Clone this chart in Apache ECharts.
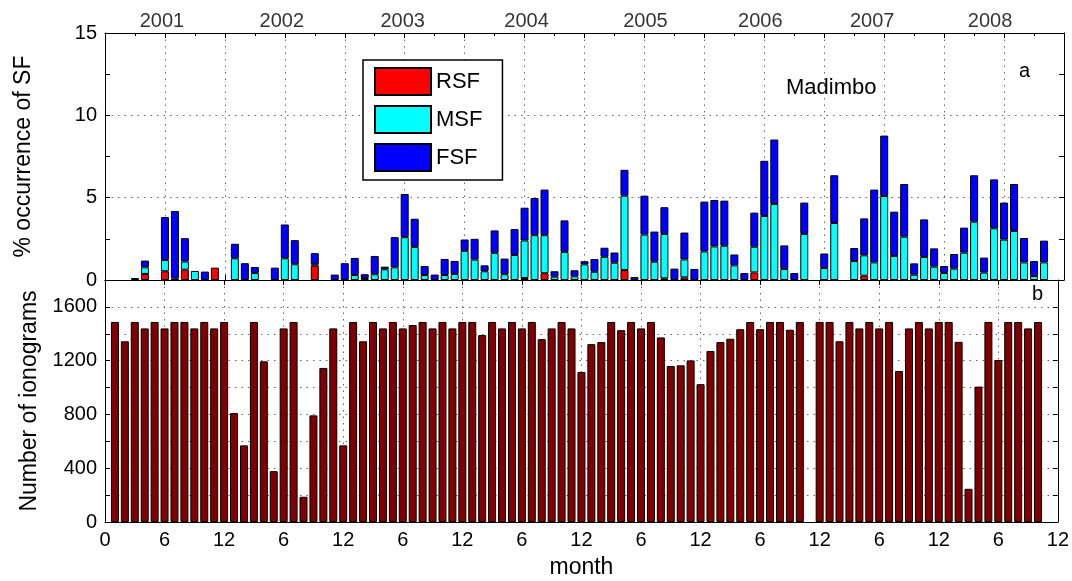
<!DOCTYPE html>
<html>
<head>
<meta charset="utf-8">
<script src="https://cdn.jsdelivr.net/npm/echarts@6/dist/echarts.min.js"></script>
<style>
html,body{margin:0;padding:0;background:#fff;}
#chart{width:1072px;height:581px;}
</style>
</head>
<body>
<div id="chart"></div>
<script>
// month slots 0..96 (month 1 = Jan 2001); bars exist for months 1..94
const monthSlots = Array.from({length: 97}, (_, i) => String(i));

const rsf = [
  0,0,0,0.37,0,0.53,0.10,0.63,0,0,0.75,0,
  0,0,0,0,0,0,0,0,0.87,0,0,0,
  0,0,0,0,0,0,0,0,0,0,0,0,
  0,0,0,0,0,0.12,0,0.41,0,0,0,0,
  0,0,0,0.60,0,0,0,0.10,0,0.16,0,0,
  0,0,0,0,0.46,0,0,0,0,0,0,0,
  0,0,0,0.26,0,0,0,0,0,0,0,0,
  0,0,0,0,0,0,0,0,0,0
];
const msf = [
  0,0,0,0.40,0,0.69,0,0.49,0.55,0,0,0,
  1.32,0,0.43,0,0,1.32,0.96,0,0.09,0,0,0,
  0.30,0.12,0.35,0.65,0.77,2.60,2.01,0.30,0,0.30,0.37,1.77,
  1.24,0.53,1.65,0.35,1.52,2.28,2.72,2.31,0.20,1.71,0.22,0.95,
  0.50,1.41,1.05,4.52,0,2.76,1.11,2.70,0,1.09,0,1.73,
  2.04,2.08,0.89,0,1.56,3.89,4.62,0.67,0,2.80,0,0.73,
  3.46,0,1.15,1.24,1.07,5.10,1.46,2.63,0.32,1.40,0.81,0.43,
  0.69,1.66,3.54,0.45,3.14,2.45,2.98,1.07,0.24,1.07
];
const fsf = [
  0,0,0.12,0.41,0,2.60,4.09,1.42,0,0.51,0,0,
  0.88,1.02,0.36,0,0.75,2.05,1.46,0,0.67,0,0.33,1.02,
  1.04,0.23,1.11,0.16,1.83,2.62,1.71,0.55,0.33,0.98,0.79,0.69,
  1.26,0.36,1.36,0.95,1.57,1.99,2.26,2.77,0.33,1.91,0.37,0.19,
  0.77,0.55,0.62,1.57,0.18,2.36,1.83,1.62,0.69,1.63,0.67,3.03,
  2.82,2.74,0.66,0.42,2.07,3.35,3.91,1.43,0.42,1.90,0,0.88,
  2.90,0,0.79,2.24,4.42,3.67,2.69,3.20,0.69,2.28,1.11,0.42,
  0.89,1.52,2.82,0.91,2.97,2.25,2.85,1.48,0.91,1.32
];
const ionograms = [
  1488,1344,1488,1440,1488,1440,1488,1488,1440,1488,1440,1488,
  810,570,1488,1195,378,1440,1488,188,793,1146,1440,570,
  1488,1344,1488,1440,1488,1440,1465,1488,1440,1488,1440,1488,
  1488,1390,1488,1440,1488,1440,1488,1360,1440,1488,1440,1116,
  1323,1338,1488,1427,1488,1440,1488,1373,1160,1165,1202,1025,
  1272,1338,1363,1434,1488,1434,1488,1488,1430,1488,0,1488,
  1488,1344,1488,1440,1488,1440,1488,1123,1440,1488,1440,1488,
  1488,1340,247,1007,1488,1205,1488,1488,1440,1488
];
const yearLabels = ['2001','2002','2003','2004','2005','2006','2007','2008'];
const yearPos = [5.7, 17.7, 29.8, 42.2, 54.1, 65.6, 76.8, 88.6];

const FONT = 'Liberation Sans, Arial, Helvetica, sans-serif';
// pad to slots 0..96: slot 0 empty, months 1..94, slots 95,96 empty
const slot = arr => ['-'].concat(arr.map(v => v === 0 ? '-' : v), ['-', '-']);
const dotted = {show: true, lineStyle: {color: '#666', type: [1.5, 5], width: 1}};
const axLine = {show: true, onZero: false, lineStyle: {color: '#000', width: 1}};
const tickIn = {show: true, inside: true, length: 5, lineStyle: {color: '#000'}};
const nameStyle = {fontSize: 23, color: '#000', fontFamily: FONT};

function xAx(grid, pos, opts) {
  return Object.assign({
    type: 'value', gridIndex: grid, position: pos, min: 0, max: 96, interval: 6,
    axisLine: axLine, axisTick: tickIn, axisLabel: {show: false}, splitLine: {show: false}
  }, opts || {});
}
function catAx(grid) {
  return {
    type: 'category', gridIndex: grid, data: monthSlots, boundaryGap: false, show: false,
    axisLine: {show: false}, axisTick: {show: false}, axisLabel: {show: false}, splitLine: {show: false}
  };
}

const chart = echarts.init(document.getElementById('chart'), null, {renderer: 'canvas'});
const barStyle = c => ({color: c, borderColor: '#000', borderWidth: 1});

chart.setOption({
  backgroundColor: '#fff',
  animation: false,
  textStyle: {fontFamily: FONT},
  grid: [
    {left: 105, top: 33, width: 959, height: 247},
    {left: 105, top: 280, width: 959, height: 242}
  ],
  legend: {
    data: ['RSF', 'MSF', 'FSF'],
    orient: 'vertical', left: 363, top: 60,
    itemWidth: 56, itemHeight: 27, itemGap: 9,
    padding: [7, 20, 8, 11],
    backgroundColor: '#fff', borderColor: '#000', borderWidth: 1.5, borderRadius: 0,
    icon: 'rect',
    textStyle: {fontSize: 22, color: '#000', fontFamily: FONT}
  },
  xAxis: [
    xAx(0, 'bottom', {splitLine: dotted}),
    xAx(0, 'top', {minorTick: {show: true, splitNumber: 2, length: 3, lineStyle: {color: '#000'}}}),
    xAx(1, 'bottom', {
      splitLine: dotted,
      name: 'month', nameLocation: 'middle', nameGap: 34,
      nameTextStyle: nameStyle,
      axisLabel: {
        show: true, fontSize: 20, color: '#000', margin: 8, fontFamily: FONT,
        formatter: v => v === 0 ? '0' : (v % 12 === 0 ? '12' : '6')
      }
    }),
    xAx(1, 'top'),
    catAx(0),
    catAx(1)
  ],
  yAxis: [
    {
      type: 'value', gridIndex: 0, position: 'left', min: 0, max: 15, interval: 5,
      axisLine: axLine, axisTick: tickIn,
      minorTick: {show: true, splitNumber: 2, length: 5, lineStyle: {color: '#000'}},
      splitLine: dotted,
      axisLabel: {fontSize: 20, color: '#000', margin: 8, fontFamily: FONT},
      name: '% occurrence of SF', nameLocation: 'middle', nameGap: 70,
      nameTextStyle: nameStyle
    },
    {
      type: 'value', gridIndex: 0, position: 'right', min: 0, max: 15, interval: 5,
      axisLine: axLine, axisTick: tickIn,
      minorTick: {show: true, splitNumber: 2, length: 5, lineStyle: {color: '#000'}},
      splitLine: {show: false}, axisLabel: {show: false}
    },
    {
      type: 'value', gridIndex: 1, position: 'left', min: 0, max: 1800, interval: 200,
      axisLine: axLine, axisTick: tickIn, splitLine: dotted,
      axisLabel: {
        fontSize: 20, color: '#000', margin: 8, fontFamily: FONT,
        formatter: v => (v % 400 === 0 && v < 1800) ? String(v) : ''
      },
      name: 'Number of ionograms', nameLocation: 'middle', nameGap: 58,
      nameTextStyle: nameStyle
    },
    {
      type: 'value', gridIndex: 1, position: 'right', min: 0, max: 1800, interval: 200,
      axisLine: axLine, axisTick: tickIn, splitLine: {show: false}, axisLabel: {show: false}
    }
  ],
  series: [
    {name: 'RSF', type: 'bar', xAxisIndex: 4, yAxisIndex: 0, stack: 'sf', barWidth: 8,
     itemStyle: barStyle('#ff0000'), data: slot(rsf)},
    {name: 'MSF', type: 'bar', xAxisIndex: 4, yAxisIndex: 0, stack: 'sf', barWidth: 8,
     itemStyle: barStyle('#00ffff'), data: slot(msf)},
    {name: 'FSF', type: 'bar', xAxisIndex: 4, yAxisIndex: 0, stack: 'sf', barWidth: 8,
     itemStyle: barStyle('#0000ff'), data: slot(fsf)},
    {name: 'ionograms', type: 'bar', xAxisIndex: 5, yAxisIndex: 2, barWidth: 8,
     itemStyle: barStyle('#800000'), data: slot(ionograms)},
    {name: 'years', type: 'scatter', xAxisIndex: 1, yAxisIndex: 0, symbolSize: 0, silent: true,
     clip: false,
     data: yearPos.map((p, i) => ({value: [p, 15], label: {formatter: yearLabels[i]}})),
     label: {show: true, position: 'top', distance: 2, fontSize: 20, color: '#000', fontFamily: FONT}}
  ],
  graphic: [
    {type: 'text', left: 786, top: 77, style: {text: 'Madimbo', fontSize: 22, fill: '#000', fontFamily: FONT}},
    {type: 'text', left: 1019, top: 61, style: {text: 'a', fontSize: 20, fill: '#000', fontFamily: FONT}},
    {type: 'text', left: 1032, top: 284, style: {text: 'b', fontSize: 20, fill: '#000', fontFamily: FONT}}
  ]
});
</script>
</body>
</html>
